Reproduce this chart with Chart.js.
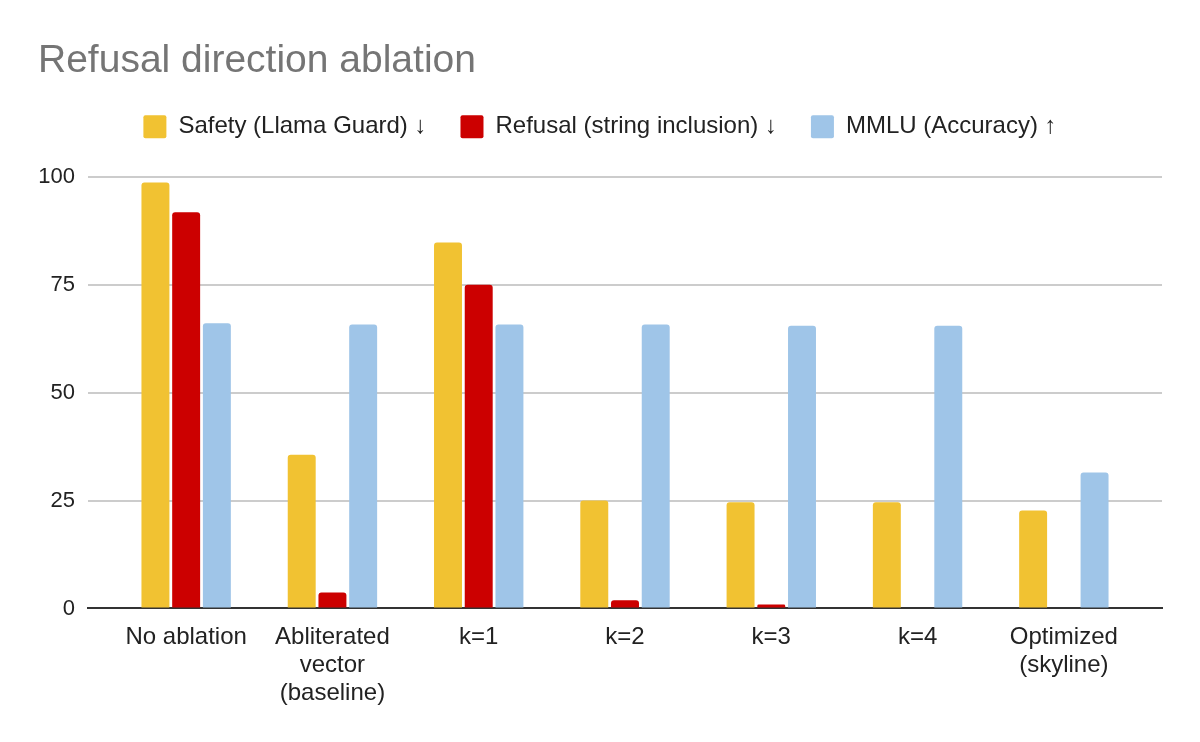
<!DOCTYPE html>
<html>
<head>
<meta charset="utf-8">
<script src="https://cdn.jsdelivr.net/npm/chart.js@4.4.1/dist/chart.umd.min.js"></script>
<style>
html,body{margin:0;padding:0;background:#fff;}
#wrap{width:1200px;height:742px;}
</style>
</head>
<body>
<div id="wrap"><canvas id="c" width="1200" height="742"></canvas></div>
<script>
const categories = ["No ablation", ["Abliterated", "vector", "(baseline)"], "k=1", "k=2", "k=3", "k=4", ["Optimized", "(skyline)"]];
const seriesNames = ["Safety (Llama Guard) \u2193", "Refusal (string inclusion) \u2193", "MMLU (Accuracy) \u2191"];
const safety  = [98.7, 35.6, 84.8, 25.0, 24.6, 24.6, 22.7];
const refusal = [91.8, 3.7, 75.0, 1.9, 0.9, 0, 0];
const mmlu    = [66.1, 65.8, 65.8, 65.8, 65.5, 65.5, 31.5];
const yTicks  = [0, 25, 50, 75, 100];
const colors  = ["#f1c232", "#cc0000", "#9fc5e8"];

const FONT = "'Liberation Sans', Arial, 'DejaVu Sans', sans-serif";
const toPts = arr => arr.map((v, i) => ({x: i, y: v}));

const legendMargin = {
  id: 'legendMargin',
  afterInit(chart) {
    const lg = chart.legend;
    if (!lg) return;
    const orig = lg.fit;
    lg.fit = function () { orig.call(this); this.height += 28; };
  }
};

new Chart(document.getElementById('c'), {
  type: 'bar',
  data: {
    datasets: [safety, refusal, mmlu].map((arr, k) => ({
      label: seriesNames[k],
      data: toPts(arr),
      backgroundColor: colors[k],
      borderWidth: 0,
      borderRadius: {topLeft: 3, topRight: 3, bottomLeft: 0, bottomRight: 0},
      borderSkipped: 'bottom',
      categoryPercentage: 0.63,
      barPercentage: 0.91
    }))
  },
  plugins: [legendMargin],
  options: {
    responsive: false,
    animation: false,
    layout: {padding: {left: 38, right: 38, top: 0, bottom: 20}},
    plugins: {
      title: {
        display: true,
        text: "Refusal direction ablation",
        align: 'start',
        color: '#757575',
        font: {family: FONT, size: 39, weight: 'normal'},
        padding: {top: 38, bottom: -4}
      },
      legend: {
        display: true,
        position: 'top',
        labels: {
          color: '#222222',
          font: {family: FONT, size: 24},
          boxWidth: 23,
          boxHeight: 23,
          padding: 34,
          useBorderRadius: true,
          borderRadius: 2
        }
      },
      tooltip: {enabled: false}
    },
    scales: {
      x: {
        type: 'linear',
        min: -0.671,
        max: 6.671,
        offset: false,
        afterBuildTicks: s => { s.ticks = categories.map((_, i) => ({value: i})); },
        ticks: {
          autoSkip: false,
          maxRotation: 0,
          color: '#222222',
          font: {family: FONT, size: 24, lineHeight: 1.16},
          padding: 15,
          callback: v => categories[v]
        },
        grid: {display: false, drawTicks: false},
        border: {display: true, color: '#333333', width: 2}
      },
      y: {
        min: 0,
        max: 100,
        afterFit: s => { s.width = 50; },
        afterBuildTicks: s => { s.ticks = yTicks.map(v => ({value: v})); },
        ticks: {
          color: '#222222',
          font: {family: FONT, size: 22},
          padding: 13
        },
        grid: {color: '#cccccc', lineWidth: 2, drawTicks: false},
        border: {display: false}
      }
    }
  }
});
</script>
</body>
</html>
